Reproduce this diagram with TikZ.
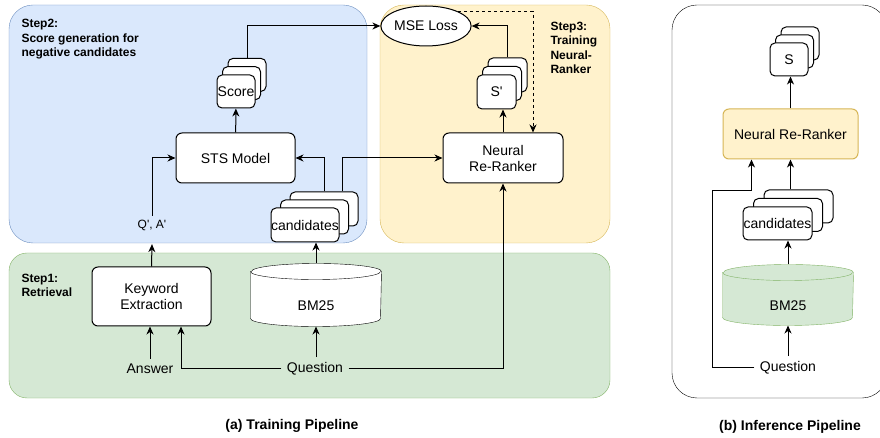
\documentclass[tikz,border=0pt]{standalone}
\usepackage{fontspec}
\setmainfont{Liberation Sans}
\usetikzlibrary{arrows.meta,shapes.geometric,backgrounds}

\definecolor{bluefill}{HTML}{DAE8FC}
\definecolor{bluedraw}{HTML}{6C8EBF}
\definecolor{yellowfill}{HTML}{FFF2CC}
\definecolor{yellowdraw}{HTML}{D6B656}
\definecolor{greenfill}{HTML}{D5E8D4}
\definecolor{greendraw}{HTML}{82B366}

\begin{document}
\begin{tikzpicture}[x=1bp,y=-1bp,line width=1bp,
	>={Stealth[length=8bp,width=7bp,inset=2.5bp]},
	every node/.style={font=\fontsize{14bp}{16bp}\selectfont},
	box/.style={draw,fill=white,rounded corners=6bp,align=center},
	card/.style={draw,fill=white,rounded corners=5bp,inner sep=0pt},
	drum/.style={minimum width=130bp,minimum height=62bp,text height=32bp,text depth=0pt},
	steplabel/.style={font=\fontsize{12bp}{14.3bp}\selectfont\bfseries,align=left,anchor=north west,inner sep=0pt},
	subcap/.style={font=\fontsize{14bp}{16bp}\selectfont\bfseries}]

% stack of three cards: name, x, y, w, h, dx, dy, text
\def\cards#1#2#3#4#5#6#7#8{
	\node[card,minimum width=#4bp,minimum height=#5bp] (#1B) at ({#2+2*#6},{#3-2*#7}) {};
	\node[card,minimum width=#4bp,minimum height=#5bp] (#1M) at ({#2+#6},{#3-#7}) {};
	\node[card,minimum width=#4bp,minimum height=#5bp] (#1) at (#2,#3) {#8};
}

% cylinder round a node: name, fill, draw
\def\drum#1#2#3{
	\draw[draw=#3,fill=#2] ([yshift=-8bp]#1.north west) -- ([yshift=8bp]#1.south west)
		arc[start angle=180,end angle=360,x radius=65bp,y radius=8bp]
		-- ([yshift=-8bp]#1.north east)
		arc[start angle=0,end angle=180,x radius=65bp,y radius=8bp] -- cycle;
	\draw[draw=#3] ([yshift=-8bp]#1.north west)
		arc[start angle=180,end angle=360,x radius=65bp,y radius=8bp];
}

\useasboundingbox (0,0) rectangle (880,438);

\begin{scope}[on background layer]
\draw[draw=bluedraw,fill=bluefill,rounded corners=24bp] (9,5) rectangle (367,243);
\draw[draw=yellowdraw,fill=yellowfill,rounded corners=24bp] (380,5) rectangle (610,243);
\draw[draw=greendraw,fill=greenfill,rounded corners=18bp] (9,253) rectangle (610,398);
\draw[fill=white,rounded corners=25bp] (672,5) rectangle (887,398);
\end{scope}

\node[steplabel] (steptwo) at (21,19) {Step2:\\Score generation for\\negative candidates};
\node[steplabel] (stepthree) at (550,21.7) {Step3:\\Training\\Neural-\\Ranker};
\node[steplabel] (stepone) at (21,273.4) {Step1:\\Retrieval};

% training
\node[box,minimum width=119bp,minimum height=50bp] (sts) at (235.5,158) {STS Model};
\node[box,minimum width=120bp,minimum height=50bp] (rerank) at (503,158) {Neural\\Re-Ranker};
\node[draw,fill=white,ellipse,minimum width=69bp,minimum height=40bp,inner sep=0pt] (mse) at (426,26) {MSE Loss};
\node[box,minimum width=119bp,minimum height=59bp] (kw) at (151.5,296.5) {Keyword\\Extraction};
\node[drum] (bm) at (316,295) {BM25};

\cards{score}{236}{91.5}{38}{33}{5.5}{8.3}{Score}
\cards{sp}{496.5}{92}{39}{34}{5.5}{8.5}{S\textquotesingle}
\cards{cand}{305}{225}{68}{34}{9.5}{8}{candidates}

\node[font=\fontsize{12bp}{14bp}\selectfont] (qa) at (152,225) {Q\textquotesingle, A\textquotesingle};
\node[inner sep=5bp] (ans) at (150,369) {Answer};
\node[inner sep=5bp] (q) at (315,369) {Question};

\draw[->] (sts) -- (score);
\draw[->] (scoreB.north) |- (mse.west);
\draw[->] (spB.north) |- (mse.east);
\draw[->,dash pattern=on 3bp off 3bp] (mse.north east) -| ([xshift=30bp]rerank.north);
\draw[->] (rerank) -- (rerank.north |- sp.south);
\draw[->] (qa.north) |- (sts.west);
\draw[->] (candB.north) |- (sts.east);
\draw[->] ([xshift=18bp]candB.north) |- (rerank.west);
\draw[->] (kw.north) -- ([yshift=-10bp]qa.south);
\draw[->] (bm.north) -- (bm.north |- cand.south);
\draw[->] (ans.north) -- (ans.north |- kw.south);
\draw[->] (q.west) -| ([xshift=29.5bp]kw.south);
\draw[->] (bm.south |- q.north) -- (bm.south);
\draw[->] (q.east) -| (rerank.south);

% inference
\node[box,draw=yellowdraw,fill=yellowfill,minimum width=135bp,minimum height=50bp] (rr) at (790.5,134) {Neural Re-Ranker};
\node[drum,minimum height=60bp] (bmi) at (788,295) {BM25};

\cards{s}{789}{59.5}{38}{33}{5.5}{8}{S}
\cards{candi}{777.5}{223.5}{69}{33}{10.5}{8.5}{candidates}

\node[inner sep=5bp] (qi) at (788,368) {Question};
\coordinate (bend) at (712,191);

\draw[->] (rr.north) -- (rr.north |- s.south);
\draw[->] (rr.south |- candiB.north) -- (rr.south);
\draw[->] (bmi.north) -- (bmi.north |- candi.south);
\draw[->] (qi.north) -- (bmi.south);
\draw[->] (qi.west) -| (bend) -| ([xshift=-39bp]rr.south);

\node[subcap] (capa) at (292,426) {(a) Training Pipeline};
\node[subcap] (capb) at (790,427) {(b) Inference Pipeline};

\begin{scope}[on background layer]
\drum{bm}{white}{black}
\drum{bmi}{greenfill}{greendraw}
\end{scope}

\end{tikzpicture}
\end{document}
